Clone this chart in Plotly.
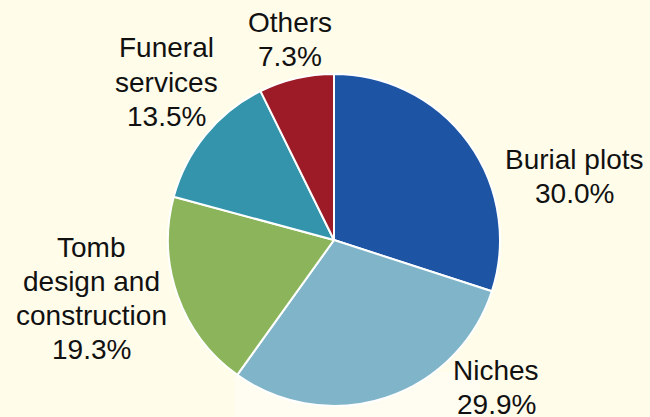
import plotly.graph_objects as go

# Market share by segment
segments = ["Burial plots", "Niches", "Tomb design and construction", "Funeral services", "Others"]
label_lines = [["Burial plots"], ["Niches"], ["Tomb", "design and", "construction"], ["Funeral", "services"], ["Others"]]
shares = [30.0, 29.9, 19.3, 13.5, 7.3]
colors = ["#1d54a4", "#80b5c9", "#8cb55b", "#3494ac", "#9c1b27"]

W, H = 650, 417
# label anchor: centre x and centre y of the first line (pixels from top-left)
label_pos = [(574, 159), (496, 370), (91, 247), (166, 48), (290, 22)]
line_gap = 34

cx, cy, r = 334, 240, 166

fig = go.Figure(go.Pie(
    labels=segments,
    values=shares,
    marker=dict(colors=colors, line=dict(color="white", width=2)),
    sort=False,
    direction="clockwise",
    rotation=0,
    textinfo="none",
    hoverinfo="label+percent",
    showlegend=False,
    domain=dict(x=[(cx - r) / W, (cx + r) / W], y=[(H - cy - r) / H, (H - cy + r) / H]),
))

for lines, v, (px, py) in zip(label_lines, shares, label_pos):
    for i, txt in enumerate(lines + [f"{v:.1f}%"]):
        fig.add_annotation(
            x=px / W, y=1 - (py + i * line_gap) / H, xref="paper", yref="paper",
            text=txt, showarrow=False,
            xanchor="center", yanchor="middle", align="center",
            font=dict(family="Liberation Sans, Arial, sans-serif", size=28, color="#111111"),
        )

# faint light band near the bottom
fig.add_shape(type="rect", xref="paper", yref="paper",
              x0=235 / W, x1=480 / W, y0=0, y1=1 - 372 / H,
              fillcolor="rgba(255,255,255,0.35)", line=dict(width=0), layer="below")

fig.update_layout(
    width=W, height=H,
    margin=dict(l=0, r=0, t=0, b=0),
    paper_bgcolor="#fffcea",
    plot_bgcolor="#fffcea",
)

fig.write_html("out.html")
